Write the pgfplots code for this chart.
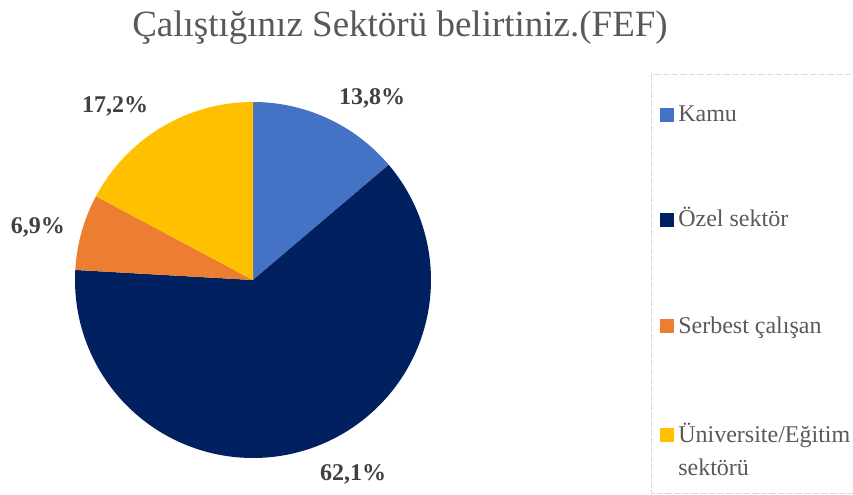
\documentclass[border=0pt]{standalone}
\usepackage{pgfplots}
\pgfplotsset{compat=1.18}
\usepackage{fontspec}
\setmainfont{Liberation Serif}
\definecolor{cKamu}{HTML}{4472C4}
\definecolor{cOzel}{HTML}{002060}
\definecolor{cSerbest}{HTML}{ED7D31}
\definecolor{cUni}{HTML}{FFC000}
\definecolor{titlegray}{HTML}{595959}
\definecolor{labgray}{HTML}{404040}
\definecolor{boxgray}{HTML}{D9D9D9}
% data (percent)
\def\vKamu{13.8}
\def\vOzel{62.1}
\def\vSerbest{6.9}
\def\vUni{17.2}
% cumulative angles, clockwise from 12 o'clock
\pgfmathsetmacro\aA{90}
\pgfmathsetmacro\aB{\aA-3.6*\vKamu}
\pgfmathsetmacro\aC{\aB-3.6*\vOzel}
\pgfmathsetmacro\aD{\aC-3.6*\vSerbest}
\pgfmathsetmacro\aE{\aD-3.6*\vUni}
\def\cx{253}\def\cy{280}\def\rr{178}
\begin{document}
\begin{tikzpicture}
\useasboundingbox (0,0) rectangle (639.75pt,371.25pt);
\begin{axis}[scale only axis, width=639.75pt, height=371.25pt,
  xmin=0, xmax=853, ymin=0, ymax=495, y dir=reverse,
  hide axis, clip=false, at={(0,0)}, anchor=south west]
\addplot[fill=cKamu, draw=none, domain=\aB:\aA, samples=80, variable=\t]
  ({\cx+\rr*cos(\t)}, {\cy-\rr*sin(\t)}) -- (axis cs:\cx,\cy) -- cycle;
\addplot[fill=cOzel, draw=none, domain=\aC:\aB, samples=200, variable=\t]
  ({\cx+\rr*cos(\t)}, {\cy-\rr*sin(\t)}) -- (axis cs:\cx,\cy) -- cycle;
\addplot[fill=cSerbest, draw=none, domain=\aD:\aC, samples=50, variable=\t]
  ({\cx+\rr*cos(\t)}, {\cy-\rr*sin(\t)}) -- (axis cs:\cx,\cy) -- cycle;
\addplot[fill=cUni, draw=none, domain=\aE:\aD, samples=80, variable=\t]
  ({\cx+\rr*cos(\t)}, {\cy-\rr*sin(\t)}) -- (axis cs:\cx,\cy) -- cycle;
% title
\node[anchor=base, text=titlegray, font=\fontsize{27.75pt}{33pt}\selectfont] at (axis cs:400,37) {Çalıştığınız Sektörü belirtiniz.(FEF)};
% data labels
\begin{scope}[every node/.style={anchor=base, text=labgray, font=\fontsize{18pt}{21pt}\selectfont\bfseries}]
\node at (axis cs:372,105) {13,8\%};
\node at (axis cs:353,480) {62,1\%};
\node at (axis cs:38,234) {6,9\%};
\node at (axis cs:115,113) {17,2\%};
\end{scope}
% legend
\draw[boxgray, line width=0.75pt, dash pattern=on 5pt off 1.5pt] (axis cs:860,75) -- (axis cs:651,75) -- (axis cs:651,493) -- (axis cs:860,493);
\fill[cKamu] (axis cs:660,108) rectangle (axis cs:674,122);
\fill[cOzel] (axis cs:660,213) rectangle (axis cs:674,227);
\fill[cSerbest] (axis cs:660,319) rectangle (axis cs:674,333);
\fill[cUni] (axis cs:660,428) rectangle (axis cs:674,442);
\begin{scope}[every node/.style={anchor=base west, inner sep=0pt, text=titlegray, font=\fontsize{18pt}{21pt}\selectfont}]
\node at (axis cs:678,122) {Kamu};
\node at (axis cs:678,227) {Özel sektör};
\node at (axis cs:678,333) {Serbest çalışan};
\node at (axis cs:678,442) {Üniversite/Eğitim};
\node at (axis cs:678,475) {sektörü};
\end{scope}
\end{axis}
\end{tikzpicture}
\end{document}
